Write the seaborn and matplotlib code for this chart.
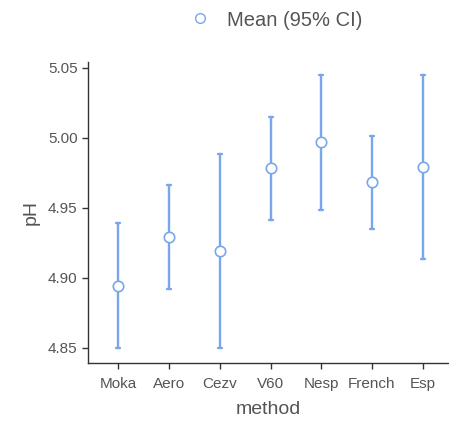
import numpy as np
import pandas as pd
import matplotlib
matplotlib.use("Agg")
import matplotlib.pyplot as plt
from matplotlib.lines import Line2D
import seaborn as sns

methods = ["Moka", "Aero", "Cezv", "V60", "Nesp", "French", "Esp"]
mean_ph = [4.894, 4.929, 4.919, 4.978, 4.997, 4.968, 4.979]
ci_low = [4.850, 4.892, 4.850, 4.941, 4.948, 4.935, 4.913]
ci_high = [4.939, 4.966, 4.988, 5.015, 5.045, 5.001, 5.045]

rows = []
for m, lo, mu, hi in zip(methods, ci_low, mean_ph, ci_high):
    for v in (lo, mu, hi):
        rows.append({"method": m, "pH": v})
df = pd.DataFrame(rows)

sns.set_theme(style="ticks")
plt.rcParams["font.family"] = ["Liberation Sans", "DejaVu Sans"]

blue = "#7aa6ec"
grey_txt = "#555555"

fig = plt.figure(figsize=(4.49, 4.23), dpi=100)
ax = fig.add_axes([88/449, 1-363/423, (448-88)/449, (363-62)/423])

sns.pointplot(data=df, x="method", y="pH", order=methods,
              estimator="median", errorbar=lambda v: (v.min(), v.max()),
              linestyle="none", color=blue, capsize=0.08,
              marker="o", markersize=7.5, markerfacecolor="white",
              markeredgecolor=blue, markeredgewidth=1.2, zorder=3,
              err_kws={"linewidth": 1.7, "zorder": 2, "color": blue},
              ax=ax)

ax.set_xlim(-0.6, 6.5)
ax.set_ylim(4.839, 5.054)
ax.set_yticks([4.85, 4.90, 4.95, 5.00, 5.05])
ax.set_yticklabels(["4.85", "4.90", "4.95", "5.00", "5.05"])
for s in ["top", "right"]:
    ax.spines[s].set_visible(False)
for s in ["left", "bottom"]:
    ax.spines[s].set_color("#333333")
    ax.spines[s].set_linewidth(1.0)
ax.tick_params(axis="both", colors="#333333", labelcolor=grey_txt,
               labelsize=11, length=4, width=1, direction="out")
ax.tick_params(axis="x", pad=6)
ax.set_xlabel("method", fontsize=14, color=grey_txt, labelpad=7)
ax.set_ylabel("pH", fontsize=14, color=grey_txt, labelpad=6)

handle = Line2D([], [], linestyle="none", marker="o", markersize=7,
                markerfacecolor="white", markeredgecolor=blue, markeredgewidth=1.0)
fig.legend([handle], ["Mean (95% CI)"], loc="center", bbox_to_anchor=(0.615, 1-20/423),
           frameon=False, fontsize=14.5, labelcolor=grey_txt, handletextpad=0.8,
           handlelength=1.0)

fig.savefig("out.png", dpi=100)
